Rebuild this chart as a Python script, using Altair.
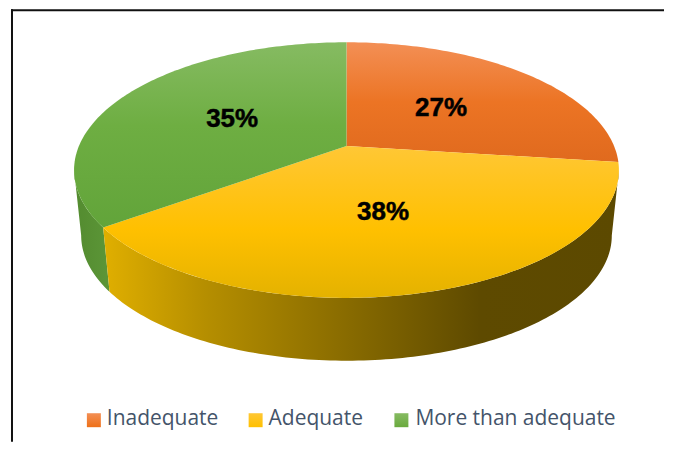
import math
import altair as alt
import pandas as pd

categories = ["Inadequate", "Adequate", "More than adequate"]
shares = [27, 38, 35]

K = 0.1875
SILHOUETTE = math.degrees(math.acos(K))


def project(angle, radius=1.0, level=0):
    """Map a pie angle (deg clockwise from the back) onto the tilted 3D disc."""
    ax, ay, f, g = (347, 146, 268, 123.5) if level == 0 else (347, 212, 261, 121)
    X = radius * math.sin(math.radians(angle))
    Y = radius * math.cos(math.radians(angle))
    d = 1 + K * Y
    return ax + f * X / d, ay - g * Y / d


def arc(a, b, level=0):
    n = max(2, int(abs(b - a)) + 1)
    return [project(a + (b - a) * i / (n - 1), 1.0, level) for i in range(n)]


def frame(points):
    return pd.DataFrame(
        [{"px": p[0], "py": p[1], "i": i} for i, p in enumerate(points)]
    )


def grad(stops, horizontal=False):
    return alt.Gradient(
        gradient="linear",
        stops=[alt.GradientStop(color=c, offset=o) for o, c in stops],
        x1=0, x2=1 if horizontal else 0, y1=0, y2=0 if horizontal else 1,
    )


top_stops = [
    [(0, "#F38F55"), (0.5, "#EC7424"), (1, "#E06A1E")],
    [(0, "#FFC735"), (0.55, "#FFC000"), (1, "#E4B200")],
    [(0, "#86BB62"), (0.45, "#6EAE42"), (1, "#62A43A")],
]
swatch_stops = [
    [(0, "#F38F55"), (1, "#EE7018")],
    [(0, "#FFC735"), (1, "#FFC000")],
    [(0, "#86BB62"), (1, "#6AAA3E")],
]

X = alt.X("px:Q", scale=alt.Scale(domain=[8, 665], nice=False, zero=False), axis=None)
Y = alt.Y("py:Q", scale=alt.Scale(domain=[442, 8], nice=False, zero=False), axis=None)


def poly(points, fill):
    return (
        alt.Chart(frame(points))
        .mark_line(fill=fill, strokeWidth=0, interpolate="linear")
        .encode(x=X, y=Y, order="i:Q")
    )


layers = []
cuts = [0]
for s in shares:
    cuts.append(cuts[-1] + s * 3.6)

# side walls
left_edge = 180 + SILHOUETTE
right_edge = 180 - SILHOUETTE
green_wall = arc(cuts[2], left_edge) + arc(left_edge, cuts[2], 1)
layers.append(poly(green_wall, grad([(0, "#538B2F"), (1, "#5C9638")], True)))
yellow_wall = arc(right_edge, cuts[2]) + arc(cuts[2], right_edge, 1)
layers.append(
    poly(
        yellow_wall,
        grad(
            [(0, "#E0AF00"), (0.2, "#B58E00"), (0.45, "#8C6E00"),
             (0.73, "#5E4A00"), (1, "#5C4900")],
            True,
        ),
    )
)

# top slices
for a, b, stops in zip(cuts[:-1], cuts[1:], top_stops):
    layers.append(poly([project(0, 0)] + arc(a, b), grad(stops)))

# value labels
label_rows = []
for a, b, s in zip(cuts[:-1], cuts[1:], shares):
    p = project((a + b) / 2, 0.5)
    label_rows.append({"px": p[0], "py": p[1], "label": f"{s}%"})
layers.append(
    alt.Chart(pd.DataFrame(label_rows))
    .mark_text(font="Liberation Sans", fontWeight="bold", fontSize=26, color="#000000",
               stroke="#000000", strokeWidth=0.5)
    .encode(x=X, y=Y, text="label:N")
)

# legend
swatch_x = [86, 248, 394]
text_x = [99, 261, 408]
for name, sx, tx, stops in zip(categories, swatch_x, text_x, swatch_stops):
    layers.append(
        alt.Chart(pd.DataFrame({"c": [name]}))
        .mark_point(shape="square", filled=True, opacity=1, strokeWidth=0, fill=grad(stops), size=196)
        .encode(x=alt.value(sx), y=alt.value(412.5))
    )
    layers.append(
        alt.Chart(pd.DataFrame({"c": [name]}))
        .mark_text(align="left", baseline="middle", font="Open Sans", fontSize=21, color="#44546A")
        .encode(x=alt.value(tx), y=alt.value(411), text="c:N")
    )

# outer frame
layers.append(
    alt.Chart(pd.DataFrame({"c": [0]}))
    .mark_rule(color="#111111", strokeWidth=2)
    .encode(x=alt.value(3), x2=alt.value(657), y=alt.value(2))
)
layers.append(
    alt.Chart(pd.DataFrame({"c": [0]}))
    .mark_rule(color="#111111", strokeWidth=2)
    .encode(x=alt.value(4), y=alt.value(1), y2=alt.value(434))
)

chart = (
    alt.layer(*layers)
    .properties(width=657, height=434, padding=0, background="#FFFFFF")
    .configure_view(stroke=None)
)
chart.save("out.html", embed_options={"renderer": "svg", "actions": False})
